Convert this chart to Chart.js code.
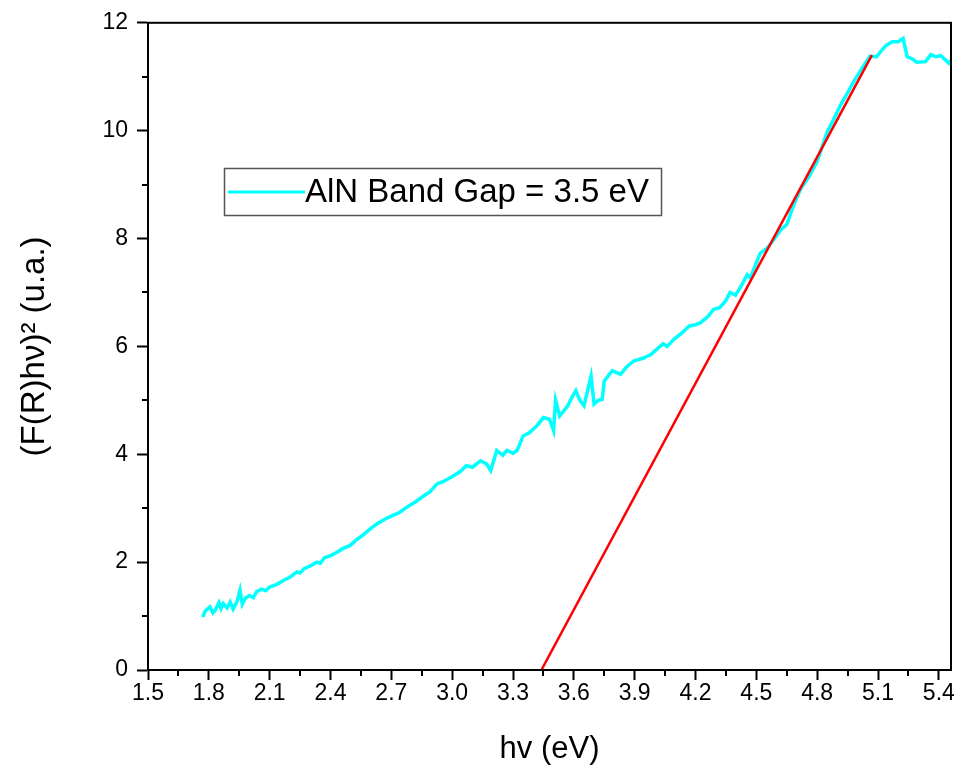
<!DOCTYPE html>
<html>
<head>
<meta charset="utf-8">
<script src="https://cdn.jsdelivr.net/npm/chart.js@4"></script>
<style>
  body { margin: 0; background: #fff; }
  #wrap { width: 954px; height: 774px; }
</style>
</head>
<body>
<div id="wrap"><canvas id="chart"></canvas></div>
<script>
// photon energy (eV) and (F(R)hv)^2
var energy = [1.77, 1.78, 1.79, 1.806, 1.82, 1.83, 1.85, 1.86, 1.871, 1.89, 1.905, 1.92, 1.94, 1.954, 1.965, 1.98, 2.0, 2.02, 2.035, 2.06,
    2.08, 2.1, 2.13, 2.15, 2.167, 2.2, 2.234, 2.25, 2.27, 2.3, 2.332, 2.35, 2.37, 2.4, 2.43, 2.46, 2.497, 2.53, 2.56, 2.6,
    2.63, 2.67, 2.71, 2.74, 2.777, 2.82, 2.86, 2.89, 2.925, 2.96, 3.007, 3.04, 3.07, 3.1, 3.14, 3.17, 3.19, 3.22, 3.25, 3.27,
    3.3, 3.32, 3.35, 3.38, 3.418, 3.45, 3.48, 3.5, 3.51, 3.53, 3.57, 3.59, 3.61, 3.63, 3.65, 3.685, 3.7, 3.72, 3.74, 3.75,
    3.79, 3.83, 3.86, 3.895, 3.94, 3.98, 4.01, 4.04, 4.06, 4.093, 4.13, 4.17, 4.2, 4.225, 4.26, 4.29, 4.32, 4.35, 4.37, 4.397,
    4.43, 4.455, 4.47, 4.5, 4.52, 4.553, 4.59, 4.62, 4.65, 4.685, 4.72, 4.76, 4.8, 4.85, 4.88, 4.916, 4.95, 4.98, 5.02, 5.06,
    5.093, 5.12, 5.14, 5.17, 5.2, 5.224, 5.244, 5.27, 5.29, 5.335, 5.36, 5.385, 5.41, 5.45, 5.467];
var absorb = [0.98, 1.08, 1.12, 1.17, 1.06, 1.10, 1.25, 1.14, 1.23, 1.15, 1.26, 1.13, 1.28, 1.48, 1.22, 1.33, 1.38, 1.34, 1.45, 1.50,
    1.47, 1.54, 1.58, 1.62, 1.66, 1.72, 1.82, 1.80, 1.88, 1.93, 2.00, 1.98, 2.08, 2.12, 2.18, 2.25, 2.31, 2.42, 2.50, 2.63,
    2.71, 2.80, 2.87, 2.92, 3.02, 3.12, 3.23, 3.30, 3.45, 3.50, 3.60, 3.68, 3.79, 3.76, 3.88, 3.82, 3.70, 4.07, 3.98, 4.07,
    4.02, 4.07, 4.34, 4.40, 4.53, 4.68, 4.65, 4.44, 5.00, 4.71, 4.90, 5.05, 5.18, 5.00, 4.90, 5.45, 4.93, 5.00, 5.02, 5.36,
    5.55, 5.48, 5.62, 5.73, 5.78, 5.85, 5.95, 6.05, 6.00, 6.13, 6.24, 6.38, 6.40, 6.44, 6.55, 6.69, 6.72, 6.85, 7.00, 6.95,
    7.15, 7.33, 7.27, 7.55, 7.73, 7.82, 8.00, 8.16, 8.26, 8.63, 8.93, 9.15, 9.43, 9.98, 10.2, 10.48, 10.70, 10.91, 11.15, 11.38,
    11.37, 11.50, 11.58, 11.65, 11.65, 11.71, 11.37, 11.33, 11.27, 11.28, 11.41, 11.37, 11.39, 11.25, 11.34];

// tangent (Tauc) line
var fitX = [3.44, 5.07];
var fitY = [0, 11.4];

var xTicks = [1.5, 1.8, 2.1, 2.4, 2.7, 3.0, 3.3, 3.6, 3.9, 4.2, 4.5, 4.8, 5.1, 5.4];
var xMinor = [1.65, 1.95, 2.25, 2.55, 2.85, 3.15, 3.45, 3.75, 4.05, 4.35, 4.65, 4.95, 5.25];
var yTicks = [0, 2, 4, 6, 8, 10, 12];
var yMinor = [1, 3, 5, 7, 9, 11];

var legendText = 'AlN Band Gap = 3.5 eV';

var toPoints = (xs, ys) => xs.map((x, i) => ({ x: x, y: ys[i] }));

var font = 'Liberation Sans, Arial, sans-serif';

var framePlugin = {
    id: 'frame',
    afterDraw(chart) {
        var ctx = chart.ctx, a = chart.chartArea;
        var xs = chart.scales.x, ys = chart.scales.y;
        ctx.save();
        ctx.strokeStyle = '#000';
        ctx.lineWidth = 2;
        ctx.strokeRect(a.left, a.top, a.right - a.left, a.bottom - a.top);
        // minor ticks
        ctx.beginPath();
        xMinor.forEach(v => {
            var px = Math.round(xs.getPixelForValue(v));
            ctx.moveTo(px, a.bottom);
            ctx.lineTo(px, a.bottom + 6);
        });
        yMinor.forEach(v => {
            var py = Math.round(ys.getPixelForValue(v));
            ctx.moveTo(a.left, py);
            ctx.lineTo(a.left - 6, py);
        });
        ctx.stroke();

        // legend box
        ctx.lineWidth = 1.5;
        ctx.strokeStyle = '#555';
        ctx.strokeRect(224.5, 168.5, 437, 47);
        ctx.strokeStyle = '#00ffff';
        ctx.lineWidth = 3;
        ctx.beginPath();
        ctx.moveTo(228, 192);
        ctx.lineTo(305, 192);
        ctx.stroke();
        ctx.fillStyle = '#000';
        ctx.font = '33px ' + font;
        ctx.textBaseline = 'middle';
        ctx.fillText(legendText, 305, 193);
        ctx.restore();
    }
};

var ctx = document.getElementById('chart').getContext('2d');
new Chart(ctx, {
    type: 'scatter',
    data: {
        datasets: [{
            data: toPoints(energy, absorb),
            showLine: true,
            borderColor: '#00ffff',
            borderWidth: 3.5,
            pointRadius: 0,
            order: 2
        }, {
            data: toPoints(fitX, fitY),
            showLine: true,
            borderColor: '#ff0000',
            borderWidth: 2.5,
            pointRadius: 0,
            order: 1
        }]
    },
    options: {
        animation: false,
        responsive: true,
        maintainAspectRatio: false,
        layout: { padding: { top: 21, right: 3, left: 0, bottom: 0 } },
        plugins: { legend: { display: false }, tooltip: { enabled: false } },
        scales: {
            x: {
                type: 'linear',
                min: 1.5,
                max: 5.46,
                afterBuildTicks: s => { s.ticks = xTicks.map(v => ({ value: v })); },
                afterFit: s => { s.height = 104; s.paddingRight = 0; },
                grid: { drawOnChartArea: false, tickLength: 10, tickWidth: 2, tickColor: '#000' },
                border: { color: '#000', width: 2 },
                ticks: {
                    color: '#000',
                    font: { family: font, size: 23 },
                    padding: 0,
                    maxRotation: 0,
                    callback: v => v.toFixed(1)
                },
                title: {
                    display: true,
                    text: 'hv (eV)',
                    color: '#000',
                    font: { family: font, size: 31, lineHeight: 1 },
                    padding: { top: 0, bottom: 9 }
                }
            },
            y: {
                min: 0,
                max: 12,
                afterBuildTicks: s => { s.ticks = yTicks.map(v => ({ value: v })); },
                afterFit: s => { s.width = 148; },
                grid: { drawOnChartArea: false, tickLength: 11, tickWidth: 2, tickColor: '#000' },
                border: { color: '#000', width: 2 },
                ticks: {
                    color: '#000',
                    font: { family: font, size: 23 },
                    padding: 9
                },
                title: {
                    display: true,
                    text: '(F(R)hν)² (u.a.)',
                    color: '#000',
                    font: { family: font, size: 33, lineHeight: 1 },
                    padding: { top: 18, bottom: 0 }
                }
            }
        }
    },
    plugins: [framePlugin]
});
</script>
</body>
</html>
